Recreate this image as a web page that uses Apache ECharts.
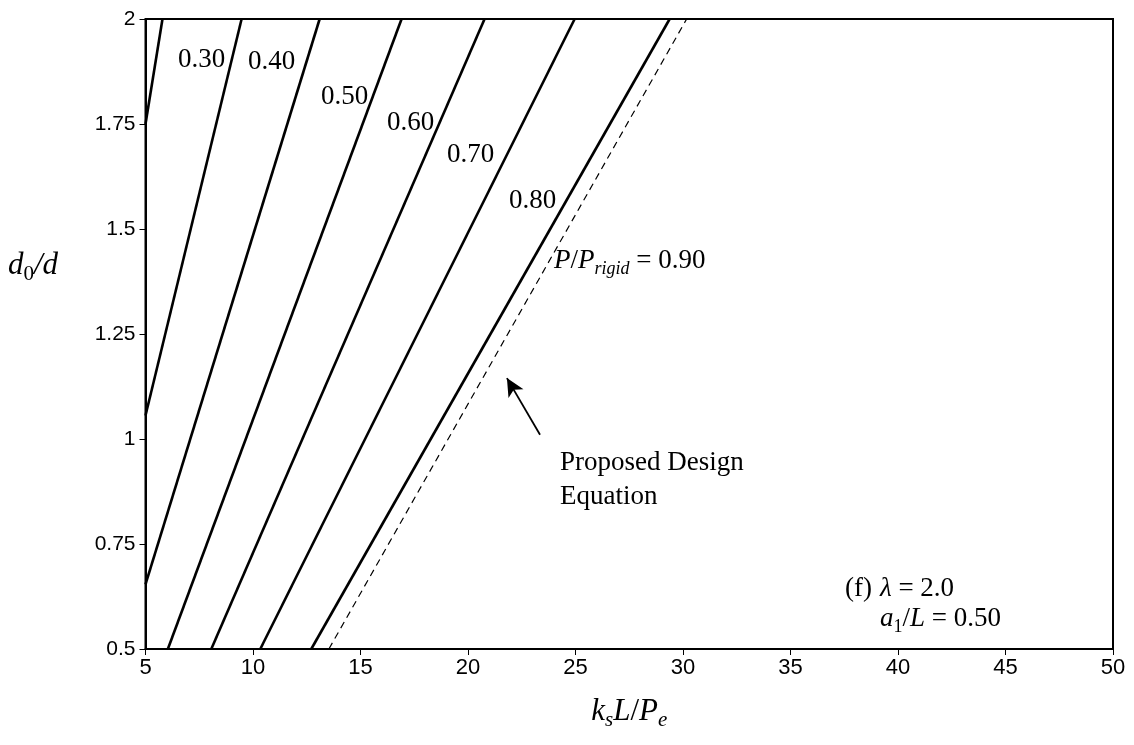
<!DOCTYPE html>
<html>
<head>
<meta charset="UTF-8">
<title>d0/d vs ksL/Pe</title>
<script src="https://cdn.jsdelivr.net/npm/echarts@6/dist/echarts.min.js"></script>
<style>
  html, body { margin: 0; padding: 0; background: #fff; }
  #main { width: 1134px; height: 745px; }
</style>
</head>
<body>
<div id="main"></div>
<script>
// axis ranges
var xMin = 5, xMax = 50, xStep = 5;
var yMin = 0.5, yMax = 2, yStep = 0.25;

// P/Prigid curves, two end points each
var curveX = [
  [5, 5.79],
  [5, 9.47],
  [5, 13.10],
  [6.04, 16.91],
  [8.06, 20.77],
  [10.34, 24.96],
  [12.71, 29.38]
];
var curveY = [
  [1.75, 2],
  [1.056, 2],
  [0.654, 2],
  [0.5, 2],
  [0.5, 2],
  [0.5, 2],
  [0.5, 2]
];
// proposed design equation (dashed)
var designX = [13.53, 30.17];
var designY = [0.5, 2];

// curve labels
var curveLabels = ['0.30', '0.40', '0.50', '0.60', '0.70', '0.80'];
var labelX = [6.51, 9.77, 13.16, 16.23, 19.02, 21.91];
var labelY = [1.902, 1.898, 1.814, 1.752, 1.676, 1.567];

var serif = 'Liberation Serif';
var sans = 'Liberation Sans';

var rich = {
  n: { fontFamily: serif, fontSize: 27, color: '#000', lineHeight: 34 },
  i: { fontFamily: serif, fontSize: 27, fontStyle: 'italic', color: '#000', lineHeight: 34 },
  s: { fontFamily: serif, fontSize: 18, color: '#000', lineHeight: 16, verticalAlign: 'bottom' },
  si: { fontFamily: serif, fontSize: 18, fontStyle: 'italic', color: '#000', lineHeight: 16, verticalAlign: 'bottom' }
};
// bigger set for the axis titles
var richBig = {
  n: { fontFamily: serif, fontSize: 31, color: '#000', lineHeight: 38 },
  i: { fontFamily: serif, fontSize: 31, fontStyle: 'italic', color: '#000', lineHeight: 38 },
  s: { fontFamily: serif, fontSize: 21, color: '#000', lineHeight: 18, verticalAlign: 'bottom' },
  si: { fontFamily: serif, fontSize: 21, fontStyle: 'italic', color: '#000', lineHeight: 18, verticalAlign: 'bottom' }
};

function pair(xs, ys) {
  var out = [];
  for (var i = 0; i < xs.length; i++) out.push([xs[i], ys[i]]);
  return out;
}

var series = [];
for (var k = 0; k < curveX.length; k++) {
  series.push({
    type: 'line',
    data: pair(curveX[k], curveY[k]),
    showSymbol: false,
    silent: true,
    lineStyle: { color: '#000', width: 2.6 },
    z: 3
  });
}
series.push({
  type: 'line',
  data: pair(designX, designY),
  showSymbol: false,
  silent: true,
  lineStyle: { color: '#000', width: 1.2, type: [7, 5] },
  markLine: {
    silent: true,
    symbol: ['none', 'arrow'],
    symbolSize: [13, 18],
    label: { show: false },
    lineStyle: { color: '#000', width: 1.8, type: 'solid' },
    data: [[{ coord: [23.35, 1.01] }, { coord: [21.81, 1.145] }]]
  }
});

// text notes placed on data coordinates
var notes = [];
for (var j = 0; j < curveLabels.length; j++) {
  notes.push({ value: [labelX[j], labelY[j]], label: { formatter: '{n|' + curveLabels[j] + '}' } });
}
notes.push({ value: [24.0, 1.424], label: { formatter: '{i|P}{n|/}{i|P}{si|rigid}{n| = 0.90}' } });
notes.push({ value: [24.28, 0.902], label: { formatter: '{n|Proposed Design}\n{n|Equation}', lineHeight: 30 } });
notes.push({ value: [37.53, 0.643], label: { formatter: '{n|(f)}' } });
notes.push({ value: [39.16, 0.643], label: { formatter: '{i|λ}{n| = 2.0}' } });
notes.push({ value: [39.16, 0.571], label: { formatter: '{i|a}{s|1}{n|/}{i|L}{n| = 0.50}' } });

series.push({
  type: 'scatter',
  data: notes,
  symbolSize: 0,
  silent: true,
  itemStyle: { color: '#000', opacity: 1 },
  label: { show: true, position: 'right', distance: 0, color: '#000', opacity: 1, rich: rich },
  z: 5
});

var myChart = echarts.init(document.getElementById('main'), null, { renderer: 'canvas' });
var option = {
  backgroundColor: '#fff',
  animation: false,
  grid: {
    left: 145.5, right: 21, top: 19, bottom: 96,
    show: true, borderColor: '#000', borderWidth: 2, backgroundColor: 'transparent'
  },
  xAxis: {
    type: 'value', min: xMin, max: xMax, interval: xStep,
    name: '{i|k}{si|s}{i|L}{n|/}{i|P}{si|e}',
    nameLocation: 'middle', nameGap: 44,
    nameTextStyle: { rich: richBig },
    axisLine: { onZero: false, lineStyle: { color: '#000', width: 2 } },
    axisTick: { inside: false, length: 6, lineStyle: { color: '#000', width: 1 } },
    axisLabel: { color: '#000', fontFamily: sans, fontSize: 22, margin: 8 },
    splitLine: { show: false }
  },
  yAxis: {
    type: 'value', min: yMin, max: yMax, interval: yStep,
    axisLine: { onZero: false, lineStyle: { color: '#000', width: 2 } },
    axisTick: { inside: false, length: 6, lineStyle: { color: '#000', width: 1 } },
    axisLabel: { color: '#000', fontFamily: sans, fontSize: 21, margin: 10 },
    splitLine: { show: false }
  },
  graphic: [{
    type: 'text', left: 8, top: 250,
    style: { text: '{i|d}{s|0}{i|/d}', rich: richBig }
  }],
  series: series
};
myChart.setOption(option);
</script>
</body>
</html>
